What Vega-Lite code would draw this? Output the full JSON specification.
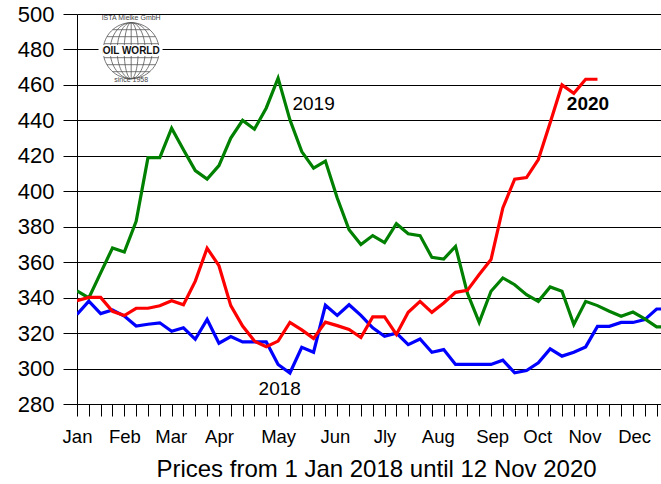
{
  "$schema": "https://vega.github.io/schema/vega-lite/v6.json",
  "width": 584,
  "height": 390,
  "autosize": "none",
  "padding": {"left": 77, "top": 14, "right": 0, "bottom": 80},
  "background": "white",
  "config": {
    "view": {"stroke": null},
    "font": "Liberation Sans",
    "axis": {"labelFont": "Liberation Sans", "titleFont": "Liberation Sans"},
    "axisY": {
      "grid": true,
      "gridColor": "#000000",
      "gridWidth": 1,
      "gridOpacity": 1,
      "tickSize": 14,
      "tickColor": "#000000",
      "tickWidth": 1,
      "domain": true,
      "domainColor": "#000000",
      "domainWidth": 1,
      "labelFontSize": 22,
      "labelColor": "#000000",
      "labelPadding": 9,
      "labelFlush": false,
      "labelOverlap": false
    },
    "text": {"font": "Liberation Sans"}
  },
  "datasets": {
    "prices": [
      {"week":0,"year":"2018","price":330.5},{"week":1,"year":"2018","price":338},{"week":2,"year":"2018","price":331},{"week":3,"year":"2018","price":333},{"week":4,"year":"2018","price":329.6},{"week":5,"year":"2018","price":324},{"week":6,"year":"2018","price":325},{"week":7,"year":"2018","price":325.8},{"week":8,"year":"2018","price":321},{"week":9,"year":"2018","price":323},
      {"week":10,"year":"2018","price":316.5},{"week":11,"year":"2018","price":327.7},{"week":12,"year":"2018","price":314.3},{"week":13,"year":"2018","price":318},{"week":14,"year":"2018","price":315},{"week":15,"year":"2018","price":315},{"week":16,"year":"2018","price":315},{"week":17,"year":"2018","price":302.3},{"week":18,"year":"2018","price":297.5},{"week":19,"year":"2018","price":312},
      {"week":20,"year":"2018","price":309.2},{"week":21,"year":"2018","price":335.7},{"week":22,"year":"2018","price":330},{"week":23,"year":"2018","price":336},{"week":24,"year":"2018","price":330},{"week":25,"year":"2018","price":323},{"week":26,"year":"2018","price":318.2},{"week":27,"year":"2018","price":320},{"week":28,"year":"2018","price":313.5},{"week":29,"year":"2018","price":316.7},
      {"week":30,"year":"2018","price":309.2},{"week":31,"year":"2018","price":310.7},{"week":32,"year":"2018","price":302.3},{"week":33,"year":"2018","price":302.3},{"week":34,"year":"2018","price":302.3},{"week":35,"year":"2018","price":302.3},{"week":36,"year":"2018","price":304.7},{"week":37,"year":"2018","price":297.6},{"week":38,"year":"2018","price":298.9},{"week":39,"year":"2018","price":303.2},
      {"week":40,"year":"2018","price":311.1},{"week":41,"year":"2018","price":307},{"week":42,"year":"2018","price":309.2},{"week":43,"year":"2018","price":312.2},{"week":44,"year":"2018","price":323.8},{"week":45,"year":"2018","price":323.8},{"week":46,"year":"2018","price":326},{"week":47,"year":"2018","price":326},{"week":48,"year":"2018","price":327.6},{"week":49,"year":"2018","price":333.6},{"week":50,"year":"2018","price":333.6},
      {"week":0,"year":"2019","price":343.8},{"week":1,"year":"2019","price":339.8},{"week":2,"year":"2019","price":354},{"week":3,"year":"2019","price":368},{"week":4,"year":"2019","price":365.7},{"week":5,"year":"2019","price":383},{"week":6,"year":"2019","price":419},{"week":7,"year":"2019","price":419},{"week":8,"year":"2019","price":435.6},{"week":9,"year":"2019","price":423.4},
      {"week":10,"year":"2019","price":411.7},{"week":11,"year":"2019","price":406.9},{"week":12,"year":"2019","price":414.5},{"week":13,"year":"2019","price":430},{"week":14,"year":"2019","price":440},{"week":15,"year":"2019","price":435},{"week":16,"year":"2019","price":447},{"week":17,"year":"2019","price":463.8},{"week":18,"year":"2019","price":440.3},{"week":19,"year":"2019","price":422.4},
      {"week":20,"year":"2019","price":413},{"week":21,"year":"2019","price":417},{"week":22,"year":"2019","price":396.2},{"week":23,"year":"2019","price":378.3},{"week":24,"year":"2019","price":370},{"week":25,"year":"2019","price":375},{"week":26,"year":"2019","price":371},{"week":27,"year":"2019","price":381.7},{"week":28,"year":"2019","price":376},{"week":29,"year":"2019","price":375},
      {"week":30,"year":"2019","price":362.7},{"week":31,"year":"2019","price":361.8},{"week":32,"year":"2019","price":368.9},{"week":33,"year":"2019","price":342.6},{"week":34,"year":"2019","price":326.1},{"week":35,"year":"2019","price":343.6},{"week":36,"year":"2019","price":351.1},{"week":37,"year":"2019","price":347.3},{"week":38,"year":"2019","price":341.7},{"week":39,"year":"2019","price":337.9},
      {"week":40,"year":"2019","price":346},{"week":41,"year":"2019","price":343.6},{"week":42,"year":"2019","price":324.8},{"week":43,"year":"2019","price":337.9},{"week":44,"year":"2019","price":335.5},{"week":45,"year":"2019","price":332.3},{"week":46,"year":"2019","price":329.5},{"week":47,"year":"2019","price":331.9},{"week":48,"year":"2019","price":328},{"week":49,"year":"2019","price":323.5},{"week":50,"year":"2019","price":323.5},
      {"week":0,"year":"2020","price":338.3},{"week":1,"year":"2020","price":340.1},{"week":2,"year":"2020","price":340.1},{"week":3,"year":"2020","price":332.3},{"week":4,"year":"2020","price":329.9},{"week":5,"year":"2020","price":334},{"week":6,"year":"2020","price":334},{"week":7,"year":"2020","price":335.4},{"week":8,"year":"2020","price":338.2},{"week":9,"year":"2020","price":336},
      {"week":10,"year":"2020","price":349.3},{"week":11,"year":"2020","price":367.9},{"week":12,"year":"2020","price":358},{"week":13,"year":"2020","price":335.5},{"week":14,"year":"2020","price":324},{"week":15,"year":"2020","price":315.5},{"week":16,"year":"2020","price":312.3},{"week":17,"year":"2020","price":315.5},{"week":18,"year":"2020","price":326},{"week":19,"year":"2020","price":321.8},
      {"week":20,"year":"2020","price":317},{"week":21,"year":"2020","price":326.2},{"week":22,"year":"2020","price":324.2},{"week":23,"year":"2020","price":322},{"week":24,"year":"2020","price":317.5},{"week":25,"year":"2020","price":329.1},{"week":26,"year":"2020","price":329.1},{"week":27,"year":"2020","price":319.2},{"week":28,"year":"2020","price":331.7},{"week":29,"year":"2020","price":337.9},
      {"week":30,"year":"2020","price":331.7},{"week":31,"year":"2020","price":337},{"week":32,"year":"2020","price":343},{"week":33,"year":"2020","price":344.1},{"week":34,"year":"2020","price":353},{"week":35,"year":"2020","price":361.5},{"week":36,"year":"2020","price":390.6},{"week":37,"year":"2020","price":406.8},{"week":38,"year":"2020","price":407.7},{"week":39,"year":"2020","price":417.9},
      {"week":40,"year":"2020","price":438.7},{"week":41,"year":"2020","price":460},{"week":42,"year":"2020","price":455.3},{"week":43,"year":"2020","price":463.2},{"week":44,"year":"2020","price":463.2}
    ],
    "labels": [
      {"week":20.0,"price":449.4,"label":"2019"},
      {"week":17.14,"price":288.2,"label":"2018"}
    ],
    "labels2020": [
      {"week":43.2,"price":449.2,"label":"2020"}
    ],
    "logoBox": [
      {"week":1.82,"week2":7.23,"price":499.4,"price2":460.6}
    ],
    "logoBand": [
      {"week":2.16,"week2":7.02,"price":482.5,"price2":476.3}
    ],
    "logoGlobe": [
      {"week":4.58,"price":479.3}
    ],
    "logoTitle": [
      {"week":4.58,"price":479.4,"label":"OIL WORLD"}
    ],
    "logoSmall": [
      {"week":4.58,"price":497.6,"label":"ISTA Mielke GmbH"},
      {"week":4.58,"price":462.6,"label":"since 1958"}
    ]
  },
  "resolve": {"axis": {"x": "independent"}},
  "layer": [
    {
      "data": {"name": "logoBox"},
      "mark": {"type": "rect", "fill": "white", "stroke": null},
      "encoding": {
        "x": {"field": "week", "type": "quantitative", "axis": null},
        "x2": {"field": "week2"},
        "y": {"field": "price", "type": "quantitative", "title": null, "axis": {"values": [280,300,320,340,360,380,400,420,440,460,480,500], "title": null}},
        "y2": {"field": "price2"}
      }
    },
    {
      "data": {"name": "logoGlobe"},
      "mark": {
        "type": "point",
        "filled": false,
        "stroke": "#555555",
        "strokeWidth": 0.8,
        "opacity": 1,
        "size": 3136,
        "shape": "M-1,0A1,1,0,1,1,1,0A1,1,0,1,1,-1,0M0,-1L0,1M0,-1A0.25,1,0,0,0,0,1A0.25,1,0,0,0,0,-1M0,-1A0.5,1,0,0,0,0,1A0.5,1,0,0,0,0,-1M0,-1A0.75,1,0,0,0,0,1A0.75,1,0,0,0,0,-1M-1,0L1,0M-0.968,-0.25L0.968,-0.25M-0.968,0.25L0.968,0.25M-0.866,-0.5L0.866,-0.5M-0.866,0.5L0.866,0.5M-0.661,-0.75L0.661,-0.75M-0.661,0.75L0.661,0.75"
      },
      "encoding": {
        "x": {"field": "week", "type": "quantitative", "axis": null},
        "y": {"field": "price", "type": "quantitative", "title": null, "axis": {"values": [280,300,320,340,360,380,400,420,440,460,480,500], "title": null}}
      }
    },
    {
      "data": {"name": "logoBand"},
      "mark": {"type": "rect", "fill": "white", "stroke": null},
      "encoding": {
        "x": {"field": "week", "type": "quantitative", "axis": null},
        "x2": {"field": "week2"},
        "y": {"field": "price", "type": "quantitative", "title": null, "axis": {"values": [280,300,320,340,360,380,400,420,440,460,480,500], "title": null}},
        "y2": {"field": "price2"}
      }
    },
    {
      "data": {"name": "logoTitle"},
      "mark": {"type": "text", "fontSize": 10, "fontWeight": "bold", "color": "#111111", "align": "center", "baseline": "middle"},
      "encoding": {
        "x": {"field": "week", "type": "quantitative", "axis": null},
        "y": {"field": "price", "type": "quantitative", "title": null, "axis": {"values": [280,300,320,340,360,380,400,420,440,460,480,500], "title": null}},
        "text": {"field": "label"}
      }
    },
    {
      "data": {"name": "logoSmall"},
      "mark": {"type": "text", "fontSize": 7, "color": "#444444", "align": "center", "baseline": "middle"},
      "encoding": {
        "x": {"field": "week", "type": "quantitative", "axis": null},
        "y": {"field": "price", "type": "quantitative", "title": null, "axis": {"values": [280,300,320,340,360,380,400,420,440,460,480,500], "title": null}},
        "text": {"field": "label"}
      }
    },
    {
      "data": {"name": "prices"},
      "mark": {"type": "line", "clip": true, "strokeJoin": "miter"},
      "encoding": {
        "x": {
          "field": "week",
          "type": "quantitative",
          "scale": {"domain": [0, 49.37], "nice": false, "zero": false},
          "axis": {
            "orient": "bottom",
            "values": [0,1,2,3,4,5,6,7,8,9,10,11,12,13,14,15,16,17,18,19,20,21,22,23,24,25,26,27,28,29,30,31,32,33,34,35,36,37,38,39,40,41,42,43,44,45,46,47,48,49],
            "labels": false,
            "ticks": true,
            "tickSize": 12,
            "tickColor": "#000000",
            "tickWidth": 1,
            "domain": true,
            "domainColor": "#000000",
            "domainWidth": 1,
            "grid": false,
            "title": "Prices from 1 Jan 2018 until 12 Nov 2020",
            "titleFontSize": 24,
            "titleFontWeight": "normal",
            "titleColor": "#000000",
            "titleX": 299,
            "titleY": 72.7,
            "titleAlign": "center",
            "titleBaseline": "alphabetic"
          }
        },
        "y": {
          "field": "price",
          "type": "quantitative",
          "scale": {"domain": [280, 500], "nice": false, "zero": false},
          "title": null,
          "axis": {"values": [280,300,320,340,360,380,400,420,440,460,480,500], "title": null}
        },
        "color": {
          "field": "year",
          "type": "nominal",
          "scale": {"domain": ["2018", "2019", "2020"], "range": ["#0000FF", "#008000", "#FF0000"]},
          "legend": null
        },
        "strokeWidth": {
          "field": "year",
          "type": "nominal",
          "scale": {"domain": ["2018", "2019", "2020"], "range": [3.2, 3.2, 4.8]},
          "legend": null
        }
      }
    },
    {
      "data": {"name": "labels"},
      "mark": {"type": "text", "fontSize": 19, "color": "#000000", "align": "center", "baseline": "middle"},
      "encoding": {
        "x": {
          "field": "week",
          "type": "quantitative",
          "axis": {
            "orient": "bottom",
            "values": [0, 4, 7.93, 12, 17, 21.8, 26, 30.5, 35.1, 38.9, 42.9, 47.1],
            "labelExpr": "datum.value < 2 ? 'Jan' : datum.value < 6 ? 'Feb' : datum.value < 10 ? 'Mar' : datum.value < 14 ? 'Apr' : datum.value < 19 ? 'May' : datum.value < 24 ? 'Jun' : datum.value < 28 ? 'Jly' : datum.value < 33 ? 'Aug' : datum.value < 37 ? 'Sep' : datum.value < 40 ? 'Oct' : datum.value < 45 ? 'Nov' : 'Dec'",
            "ticks": false,
            "tickSize": 0,
            "domain": false,
            "grid": false,
            "labelFontSize": 18.5,
            "labelColor": "#000000",
            "labelPadding": 38.7,
            "labelBaseline": "alphabetic",
            "labelFlush": false,
            "labelOverlap": false,
            "labelBound": false,
            "title": null
          }
        },
        "y": {"field": "price", "type": "quantitative", "title": null, "axis": {"values": [280,300,320,340,360,380,400,420,440,460,480,500], "title": null}},
        "text": {"field": "label"}
      }
    },
    {
      "data": {"name": "labels2020"},
      "mark": {"type": "text", "fontSize": 19, "fontWeight": "bold", "color": "#000000", "align": "center", "baseline": "middle"},
      "encoding": {
        "x": {"field": "week", "type": "quantitative", "axis": null},
        "y": {"field": "price", "type": "quantitative", "title": null, "axis": {"values": [280,300,320,340,360,380,400,420,440,460,480,500], "title": null}},
        "text": {"field": "label"}
      }
    }
  ]
}
